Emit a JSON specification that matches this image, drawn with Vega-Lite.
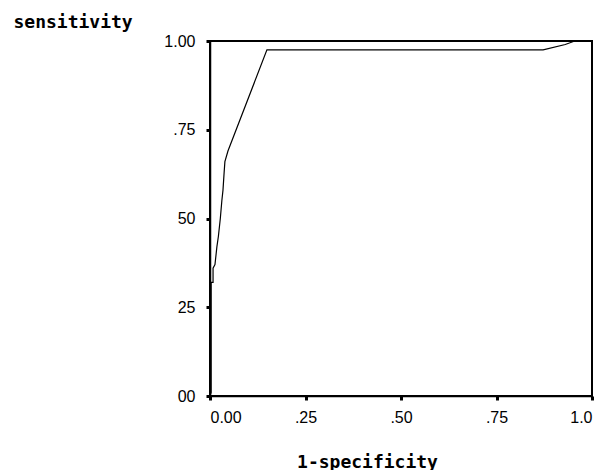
{
  "$schema": "https://vega.github.io/schema/vega-lite/v6.json",
  "autosize": "none",
  "width": 382,
  "height": 355,
  "padding": {"left": 210, "top": 41, "right": 19, "bottom": 74},
  "background": "white",
  "config": {
    "view": {"stroke": "black", "strokeWidth": 2},
    "axis": {
      "grid": false,
      "domainColor": "black",
      "domainWidth": 1.5,
      "tickColor": "black",
      "tickWidth": 3,
      "tickSize": 4,
      "labelColor": "black",
      "labelFont": "Liberation Sans",
      "labelFontSize": 16,
      "titleColor": "black",
      "titleFont": "DejaVu Sans Mono",
      "titleFontWeight": "bold",
      "titleFontSize": 18
    }
  },
  "data": {
    "values": [
      {"fpr": 0.0, "tpr": 0.0},
      {"fpr": 0.003, "tpr": 0.01},
      {"fpr": 0.003, "tpr": 0.32},
      {"fpr": 0.008, "tpr": 0.32},
      {"fpr": 0.008, "tpr": 0.36},
      {"fpr": 0.013, "tpr": 0.37},
      {"fpr": 0.018, "tpr": 0.42},
      {"fpr": 0.022, "tpr": 0.45},
      {"fpr": 0.027, "tpr": 0.5},
      {"fpr": 0.031, "tpr": 0.55},
      {"fpr": 0.034, "tpr": 0.58},
      {"fpr": 0.037, "tpr": 0.63},
      {"fpr": 0.039, "tpr": 0.66},
      {"fpr": 0.047, "tpr": 0.69},
      {"fpr": 0.149, "tpr": 0.975},
      {"fpr": 0.872, "tpr": 0.975},
      {"fpr": 0.93, "tpr": 0.99},
      {"fpr": 0.955, "tpr": 1.0},
      {"fpr": 1.0, "tpr": 1.0}
    ]
  },
  "mark": {"type": "line", "color": "black", "strokeWidth": 1.2, "clip": false},
  "encoding": {
    "x": {
      "field": "fpr",
      "type": "quantitative",
      "scale": {"domain": [0, 1], "nice": false, "zero": false},
      "axis": {
        "values": [0, 0.25, 0.5, 0.75, 1],
        "labelExpr": "datum.value == 0 ? '0.00' : datum.value == 0.25 ? '.25' : datum.value == 0.5 ? '.50' : datum.value == 0.75 ? '.75' : '1.0'",
        "labelPadding": 9,
        "title": "1-specificity",
        "titleAlign": "center",
        "titleBaseline": "middle",
        "titleX": 157,
        "titleY": 66
      }
    },
    "y": {
      "field": "tpr",
      "type": "quantitative",
      "scale": {"domain": [0, 1], "nice": false, "zero": false},
      "axis": {
        "values": [0, 0.25, 0.5, 0.75, 1],
        "labelExpr": "datum.value == 1 ? '1.00' : datum.value == 0.75 ? '.75' : datum.value == 0.5 ? '50' : datum.value == 0.25 ? '25' : '00'",
        "labelPadding": 11,
        "title": "sensitivity",
        "titleAngle": 0,
        "titleAlign": "left",
        "titleBaseline": "middle",
        "titleX": -197,
        "titleY": -19
      }
    }
  }
}
